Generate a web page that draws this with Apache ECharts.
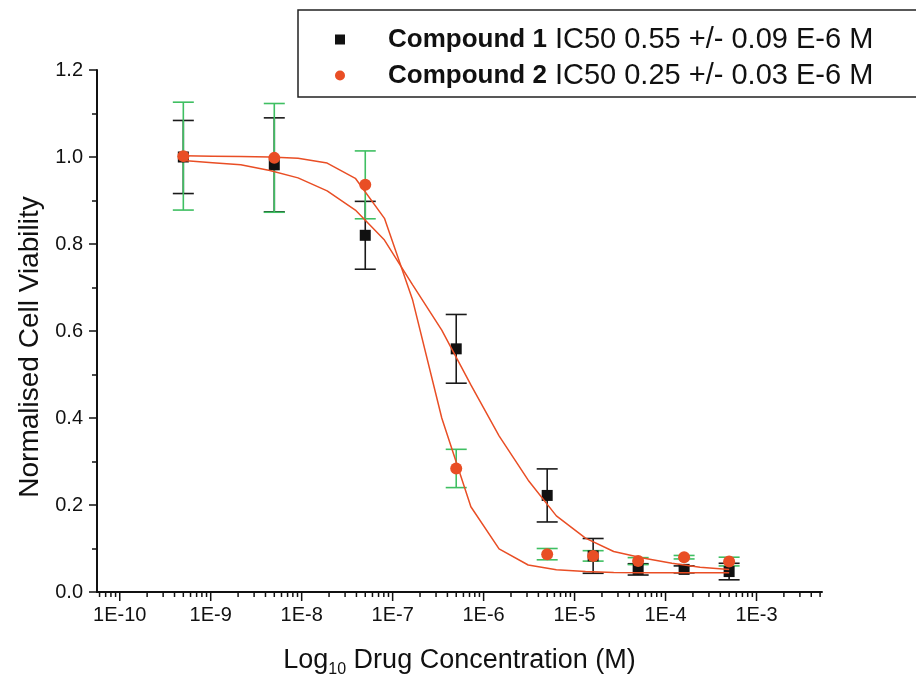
<!DOCTYPE html>
<html>
<head>
<meta charset="utf-8">
<script src="https://cdn.jsdelivr.net/npm/echarts@6/dist/echarts.min.js"></script>
<style>
  html, body { margin: 0; padding: 0; background: #fff; }
  #chart { width: 916px; height: 676px; }
</style>
</head>
<body>
<div id="chart"></div>
<script>
// concentrations (M), half-log dilution series
const concM = [5e-10, 5e-9, 5e-8, 5e-7, 5e-6, 1.6e-5, 5e-5, 1.6e-4, 5e-4];

// Compound 1 - mean and +/- error
const c1Mean = [1.000, 0.982, 0.820, 0.559, 0.222, 0.083, 0.052, 0.052, 0.047];
const c1Err  = [0.084, 0.108, 0.078, 0.079, 0.061, 0.040, 0.013, 0.008, 0.019];

// Compound 2 - mean and +/- error
const c2Mean = [1.002, 0.998, 0.936, 0.284, 0.087, 0.083, 0.071, 0.080, 0.070];
const c2Err  = [0.124, 0.125, 0.078, 0.044, 0.013, 0.012, 0.008, 0.004, 0.010];

// fitted curves (log10 M)
const fitLogConc = [-9.30, -8.98, -8.67, -8.35, -8.04, -7.72, -7.41, -7.09, -6.78, -6.46,
                    -6.14, -5.83, -5.51, -5.20, -4.88, -4.57, -4.25, -3.93, -3.62, -3.30];
const fit1 = [0.992, 0.987, 0.982, 0.969, 0.952, 0.922, 0.878, 0.809, 0.706, 0.602,
              0.476, 0.359, 0.257, 0.175, 0.124, 0.093, 0.078, 0.066, 0.057, 0.052];
const fit2 = [1.003, 1.002, 1.001, 1.000, 0.997, 0.986, 0.951, 0.859, 0.671, 0.400,
              0.196, 0.099, 0.062, 0.051, 0.047, 0.045, 0.044, 0.044, 0.044, 0.044];

const seriesNames = ['Compound 1', 'Compound 2'];
const legendIC50 = ['IC50 0.55 +/- 0.09 E-6 M', 'IC50 0.25 +/- 0.03 E-6 M'];

// x axis in log10 units
const xMin = -10.25, xMax = -2.28;
const tickDecades = [-11, -10, -9, -8, -7, -6, -5, -4, -3];
const minorFactors = [2, 3, 4, 5, 6, 7, 8, 9];

const font = 'Liberation Sans, Arial, sans-serif';
const orange = '#e94e25';
const green = '#3fbf62';

const logC = concM.map(c => Math.log10(c));

// log-axis ticks (major + minor)
const tickData = [];
tickDecades.forEach(d => {
  if (d >= xMin && d <= xMax) tickData.push([d, 1]);
  minorFactors.forEach(f => {
    const v = d + Math.log10(f);
    if (v >= xMin && v <= xMax) tickData.push([v, 0]);
  });
});

function errData(mean, err) {
  return mean.map((m, i) => [logC[i], m - err[i], m + err[i]]);
}

function errRender(color) {
  return function (params, api) {
    const top = api.coord([api.value(0), api.value(2)]);
    const bot = api.coord([api.value(0), api.value(1)]);
    const hw = 10.5;
    const st = { stroke: color, lineWidth: 1.6 };
    return {
      type: 'group',
      children: [
        { type: 'line', shape: { x1: top[0], y1: top[1], x2: bot[0], y2: bot[1] }, style: st },
        { type: 'line', shape: { x1: top[0] - hw, y1: top[1], x2: top[0] + hw, y2: top[1] }, style: st },
        { type: 'line', shape: { x1: bot[0] - hw, y1: bot[1], x2: bot[0] + hw, y2: bot[1] }, style: st }
      ]
    };
  };
}

var chart = echarts.init(document.getElementById('chart'), null, { renderer: 'canvas' });

var option = {
  animation: false,
  backgroundColor: '#fff',
  textStyle: { fontFamily: font },
  grid: { left: 97, top: 70, width: 725, height: 522, outerBoundsMode: 'none', containLabel: false },
  legend: {
    data: seriesNames,
    orient: 'vertical',
    left: 298,
    top: 10,
    padding: [15, 120, 7, 37],
    itemGap: 7,
    itemWidth: 10,
    itemHeight: 10,
    borderColor: '#222',
    borderWidth: 1.5,
    formatter: name => '{b|' + name + '} ' + legendIC50[seriesNames.indexOf(name)],
    textStyle: {
      fontFamily: font, fontSize: 29, color: '#111', lineHeight: 26,
      padding: [0, 0, 0, 38],
      rich: { b: { fontFamily: font, fontSize: 26, fontWeight: 'bold', color: '#111', lineHeight: 26 } }
    }
  },
  xAxis: {
    type: 'value',
    min: xMin,
    max: xMax,
    splitNumber: 8,
    minInterval: 1,
    maxInterval: 1,
    splitLine: { show: false },
    axisTick: { show: false },
    axisLine: { onZero: false, lineStyle: { color: '#111', width: 2 } },
    axisLabel: {
      fontFamily: font, fontSize: 20, color: '#111', margin: 13,
      showMinLabel: false, showMaxLabel: false,
      formatter: v => (Math.abs(v - Math.round(v)) < 1e-9 ? '1E' + Math.round(v) : '')
    },
    name: 'Log{sub|10} Drug Concentration (M)',
    nameLocation: 'middle',
    nameGap: 52,
    nameTextStyle: {
      fontFamily: font, fontSize: 27, color: '#111',
      rich: { sub: { fontFamily: font, fontSize: 16, color: '#111', padding: [18, 0, 0, 0] } }
    }
  },
  yAxis: {
    type: 'value',
    min: 0,
    max: 1.2,
    interval: 0.2,
    splitLine: { show: false },
    axisLine: { show: true, lineStyle: { color: '#111', width: 2 } },
    axisTick: { show: true, length: 8, lineStyle: { color: '#111', width: 1.5 } },
    minorTick: { show: true, splitNumber: 2, length: 5, lineStyle: { color: '#111', width: 1.5 } },
    axisLabel: {
      fontFamily: font, fontSize: 20, color: '#111', margin: 14,
      formatter: v => v.toFixed(1)
    },
    name: 'Normalised Cell Viability',
    nameLocation: 'middle',
    nameGap: 53,
    nameTextStyle: { fontFamily: font, fontSize: 28, color: '#111', padding: [0, 32, 0, 0] }
  },
  series: [
    {
      type: 'custom',
      name: 'ticks',
      silent: true,
      clip: false,
      data: tickData,
      encode: { x: 0 },
      renderItem: function (params, api) {
        const p = api.coord([api.value(0), 0]);
        const len = api.value(1) ? 9 : 5;
        return {
          type: 'line',
          shape: { x1: p[0], y1: p[1], x2: p[0], y2: p[1] + len },
          style: { stroke: '#111', lineWidth: 1.5 }
        };
      }
    },
    {
      type: 'line', name: 'fit1', silent: true, symbol: 'none',
      data: fitLogConc.map((x, i) => [x, fit1[i]]),
      lineStyle: { color: orange, width: 1.5 }
    },
    {
      type: 'line', name: 'fit2', silent: true, symbol: 'none',
      data: fitLogConc.map((x, i) => [x, fit2[i]]),
      lineStyle: { color: orange, width: 1.5 }
    },
    {
      type: 'custom', name: 'err1', silent: true,
      data: errData(c1Mean, c1Err),
      encode: { x: 0, y: [1, 2] },
      renderItem: errRender('#1a1a1a')
    },
    {
      type: 'scatter', name: seriesNames[0],
      symbol: 'rect', symbolSize: 11,
      itemStyle: { color: '#111', opacity: 1 },
      data: c1Mean.map((m, i) => [logC[i], m])
    },
    {
      type: 'custom', name: 'err2', silent: true,
      data: errData(c2Mean, c2Err),
      encode: { x: 0, y: [1, 2] },
      renderItem: errRender(green)
    },
    {
      type: 'scatter', name: seriesNames[1],
      symbol: 'circle', symbolSize: 12,
      itemStyle: { color: orange, opacity: 1 },
      data: c2Mean.map((m, i) => [logC[i], m])
    }
  ]
};

chart.setOption(option);
</script>
</body>
</html>
